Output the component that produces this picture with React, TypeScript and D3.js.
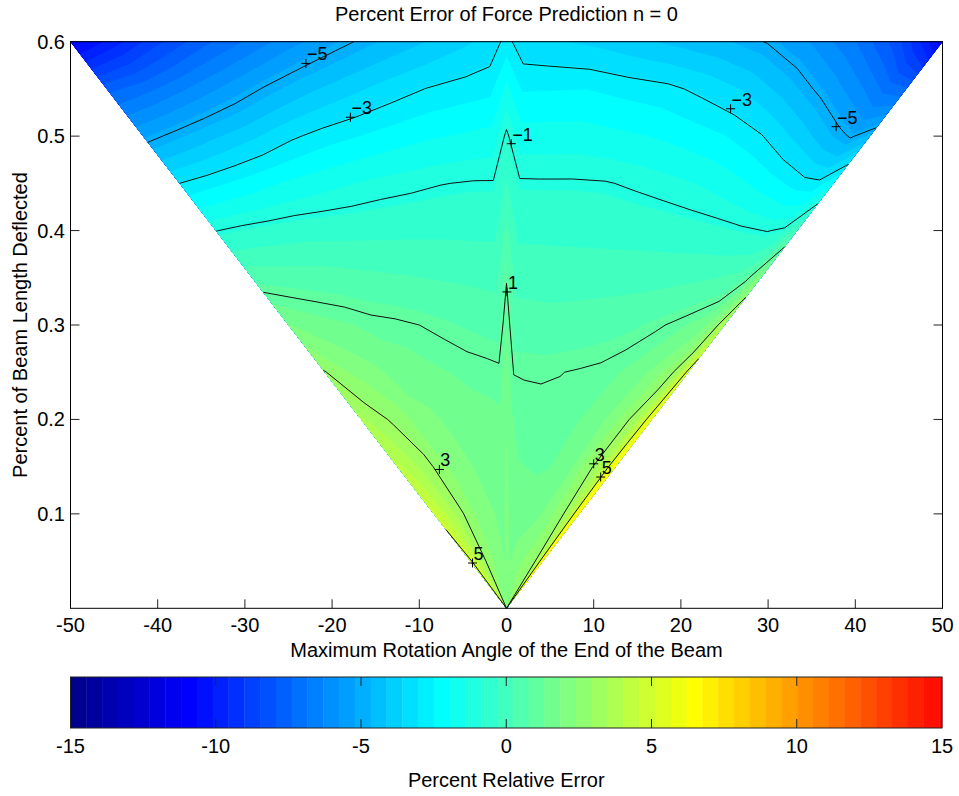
import React, { useEffect, useRef } from 'react';
import * as d3 from 'd3';

// normalized rotation angle (angle / largest angle reachable at that deflection)
const angleFractions = [-1, -0.9, -0.8, -0.7, -0.6, -0.5, -0.4, -0.3, -0.2, -0.1, -0.04, 0, 0.04, 0.1, 0.2, 0.3, 0.4, 0.5, 0.6, 0.7, 0.8, 0.9, 0.95, 1];
// percent of beam length deflected, one table row each
const deflections = [0, 0.05, 0.1, 0.15, 0.2, 0.25, 0.3, 0.35, 0.4, 0.45, 0.5, 0.55, 0.6];

// percent relative error, rows from deflection 0 up to 0.6
const errorRows = [
  [5.5, 4.8, 4.2, 3.7, 3.2, 2.9, 2.6, 2.3, 2.1, 2.0, 1.9, 2.1, 2.0, 2.0, 2.2, 2.4, 2.6, 2.7, 2.85, 2.9, 3.0, 4.4, 6.0, 7.8],
  [5.3, 4.6, 4.1, 3.64, 3.1, 2.8, 2.5, 2.2, 2.0, 1.9, 1.85, 2.1, 1.95, 1.85, 2.0, 2.2, 2.35, 2.5, 2.65, 2.8, 3.02, 4.3, 5.9, 7.5],
  [4.85, 4.4, 3.85, 3.46, 3.05, 2.6, 2.3, 2.05, 1.9, 1.8, 1.75, 2.05, 1.8, 1.6, 1.65, 1.6, 1.7, 1.9, 2.15, 2.7, 3.05, 4.1, 5.7, 7.2],
  [4.2, 3.85, 3.45, 3.15, 2.58, 2.3, 2.05, 1.85, 1.7, 1.65, 1.6, 1.95, 1.6, 1.35, 1.3, 1.25, 1.3, 1.55, 1.8, 2.5, 3.05, 3.9, 5.4, 6.8],
  [3.6, 3.27, 2.94, 2.58, 2.1, 1.95, 1.75, 1.6, 1.5, 1.45, 1.4, 1.8, 1.35, 1.15, 1.12, 1.1, 1.15, 1.3, 1.5, 1.95, 2.6, 3.5, 4.58, 6.2],
  [3.05, 2.5, 2.2, 1.95, 1.63, 1.55, 1.4, 1.3, 1.2, 1.15, 1.1, 1.6, 0.98, 0.97, 0.96, 0.99, 1.04, 1.1, 1.25, 1.5, 1.95, 2.7, 3.53, 5.4],
  [1.9, 1.62, 1.45, 1.32, 1.16, 1.1, 1.0, 0.87, 0.74, 0.63, 0.57, 1.3, 0.5, 0.48, 0.44, 0.48, 0.53, 0.6, 0.72, 0.92, 1.2, 1.62, 2.3, 4.0],
  [0.6, 0.56, 0.52, 0.48, 0.4, 0.33, 0.27, 0.2, 0.16, 0.1, 0.07, 0.96, 0.03, 0.0, -0.02, -0.01, 0.0, 0.02, 0.04, 0.1, 0.17, 0.38, 0.89, 2.3],
  [-1.02, -0.81, -0.67, -0.55, -0.52, -0.49, -0.46, -0.44, -0.43, -0.44, -0.44, 0.35, -0.45, -0.45, -0.47, -0.5, -0.53, -0.57, -0.64, -0.72, -0.875, -1.03, -0.89, 0.3],
  [-3.0, -2.65, -2.3, -1.96, -1.69, -1.48, -1.28, -1.15, -1.02, -0.95, -0.95, -0.26, -0.92, -0.93, -0.93, -0.96, -1.09, -1.25, -1.46, -1.78, -2.24, -2.76, -2.84, -2.0],
  [-5.3, -4.74, -4.2, -3.7, -3.14, -2.75, -2.48, -2.21, -2.0, -1.86, -1.77, -0.87, -1.7, -1.7, -1.69, -1.82, -1.96, -2.19, -2.47, -2.95, -3.73, -4.69, -5.09, -4.5],
  [-7.6, -7.0, -6.3, -5.6, -4.89, -4.27, -3.78, -3.35, -2.98, -2.76, -2.64, -1.8, -2.55, -2.53, -2.5, -2.68, -2.84, -3.2, -3.65, -4.39, -5.3, -6.37, -7.03, -7.3],
  [-11, -9.8, -8.6, -7.6, -6.8, -6.0, -5.3, -4.7, -4.2, -3.7, -3.4, -2.8, -3.4, -3.5, -3.7, -4.0, -4.3, -4.6, -5.05, -5.8, -6.8, -8.3, -9.6, -11],
];

const maxAngle = 50;
const maxDeflection = 0.6;

const angleTicks = [-50, -40, -30, -20, -10, 0, 10, 20, 30, 40, 50];
const deflectionTicks = [0.1, 0.2, 0.3, 0.4, 0.5, 0.6];
const colorbarTicks = [-15, -10, -5, 0, 5, 10, 15];
const colorLimits = [-15, 19.8];

const contourLevels = [-5, -3, -1, 1, 3, 5];
const labelLevels = [-5, -5, -3, -3, -1, 1, 3, 3, 5, 5];
const labelAngles = [-23.0, 37.8, -17.9, 25.7, 0.55, 0.05, -7.7, 10.0, -3.9, 10.8];
const labelDeflections = [0.577, 0.51, 0.52, 0.529, 0.492, 0.335, 0.147, 0.153, 0.048, 0.139];

// MATLAB style jet colormap
function jet(m: number): string[] {
  const n = Math.ceil(m / 4);
  const u = [
    ...d3.range(1, n + 1).map(i => i / n),
    ...d3.range(n - 1).map(() => 1),
    ...d3.range(n, 0, -1).map(i => i / n),
  ];
  const g0 = Math.ceil(n / 2) - (m % 4 === 1 ? 1 : 0);
  const rgb = d3.range(m).map(() => [0, 0, 0]);
  u.forEach((v, i) => {
    const g = g0 + i + 1, r = g + n, b = g - n;
    if (g <= m) rgb[g - 1][1] = v;
    if (r <= m) rgb[r - 1][0] = v;
    if (b >= 1) rgb[b - 1][2] = v;
  });
  return rgb.map(([r, g, b]) => d3.rgb(r * 255, g * 255, b * 255).formatHex());
}

const FONT = '"Liberation Sans", Arial, Helvetica, sans-serif';

const App: React.FC = () => {
  const svgRef = useRef<SVGSVGElement>(null);

  useEffect(() => {
    if (!svgRef.current) return;
    const svg = d3.select(svgRef.current);
    svg.selectAll('*').remove();

    const plot = { left: 70.5, right: 942.5, top: 41.7, bottom: 608.3 };
    const bar = { left: 70.5, right: 942, top: 677, bottom: 728 };
    const tickLen = 9;

    const x = d3.scaleLinear().domain([-50, 50]).range([plot.left, plot.right]);
    const y = d3.scaleLinear().domain([0, 0.6]).range([plot.bottom, plot.top]);
    const cx = d3.scaleLinear().domain([-15, 15]).range([bar.left, bar.right]);

    const colors = jet(64);
    const step = (colorLimits[1] - colorLimits[0]) / colors.length;

    svg.append('rect').attr('width', 959).attr('height', 796).attr('fill', '#fff');

    // ticks (drawn under the filled data, like MATLAB)
    const ticks = svg.append('g').attr('stroke', '#222').attr('stroke-width', 1);
    angleTicks.forEach(t => {
      ticks.append('line').attr('x1', x(t)).attr('x2', x(t)).attr('y1', plot.bottom).attr('y2', plot.bottom - tickLen);
      ticks.append('line').attr('x1', x(t)).attr('x2', x(t)).attr('y1', plot.top).attr('y2', plot.top + tickLen);
    });
    deflectionTicks.forEach(t => {
      ticks.append('line').attr('x1', plot.left).attr('x2', plot.left + tickLen).attr('y1', y(t)).attr('y2', y(t));
      ticks.append('line').attr('x1', plot.right).attr('x2', plot.right - tickLen).attr('y1', y(t)).attr('y2', y(t));
    });

    // grid -> chart coordinates
    const nx = angleFractions.length;
    const ny = deflections.length;
    const values = errorRows.flat();
    const uAt = d3.scaleLinear().domain(d3.range(nx)).range(angleFractions).clamp(true);
    const dAt = d3.scaleLinear().domain(d3.range(ny)).range(deflections).clamp(true);
    const project = (p: number[]): [number, number] => {
      const d = dAt(p[1] - 0.5);
      const a = uAt(p[0] - 0.5) * maxAngle * d / maxDeflection;
      return [x(a), y(d)];
    };
    const onEdge = (p: number[]) => p[0] <= 0 || p[0] >= nx || p[1] <= 0 || p[1] >= ny;

    // filled bands, one per colormap entry
    const thresholds = colors.map((_, k) => colorLimits[0] + k * step);
    const bands = d3.contours().size([nx, ny]).thresholds(thresholds)(values);
    const fills = svg.append('g');
    bands.forEach((band, k) => {
      const rings = band.coordinates.flat(1);
      if (!rings.length) return;
      const d = rings
        .map(ring => 'M' + ring.map(p => project(p).join(',')).join('L') + 'Z')
        .join('');
      fills.append('path').attr('d', d).attr('fill', colors[k]);
    });

    // contour lines
    const isolines = d3.contours().size([nx, ny]).thresholds(contourLevels)(values);
    const lines = svg.append('g')
      .attr('fill', 'none')
      .attr('stroke', '#111')
      .attr('stroke-width', 1);
    isolines.forEach(iso => {
      let d = '';
      iso.coordinates.flat(1).forEach(ring => {
        let open = false;
        for (let i = 1; i < ring.length; i++) {
          const a = ring[i - 1], b = ring[i];
          if (onEdge(a) || onEdge(b)) { open = false; continue; }
          const pa = project(a), pb = project(b);
          if (!open) { d += `M${pa[0]},${pa[1]}`; open = true; }
          d += `L${pb[0]},${pb[1]}`;
        }
      });
      lines.append('path').attr('d', d);
    });

    // contour labels
    const labels = svg.append('g');
    labelLevels.forEach((lev, i) => {
      const px = x(labelAngles[i]);
      const py = y(labelDeflections[i]);
      labels.append('path')
        .attr('d', `M${px - 4.5},${py}H${px + 4.5}M${px},${py - 4.5}V${py + 4.5}`)
        .attr('stroke', '#000')
        .attr('stroke-width', 1);
      labels.append('text')
        .attr('x', px + 1)
        .attr('y', py - 3)
        .attr('font-family', FONT)
        .attr('font-size', 18)
        .attr('fill', '#000')
        .text(lev < 0 ? '\u2212' + Math.abs(lev) : String(lev));
    });

    // axes box
    svg.append('rect')
      .attr('x', plot.left).attr('y', plot.top)
      .attr('width', plot.right - plot.left).attr('height', plot.bottom - plot.top)
      .attr('fill', 'none').attr('stroke', '#000').attr('stroke-width', 1);

    const text = svg.append('g').attr('font-family', FONT).attr('font-size', 20).attr('fill', '#000');

    angleTicks.forEach(t => {
      text.append('text').attr('x', x(t)).attr('y', 632).attr('text-anchor', 'middle').text(String(t));
    });
    deflectionTicks.forEach(t => {
      text.append('text').attr('x', 65).attr('y', y(t)).attr('dy', '0.35em')
        .attr('text-anchor', 'end').text(d3.format('.1f')(t));
    });

    text.append('text').attr('x', (plot.left + plot.right) / 2).attr('y', 21)
      .attr('text-anchor', 'middle').text('Percent Error of Force Prediction n = 0');
    text.append('text').attr('x', (plot.left + plot.right) / 2).attr('y', 657)
      .attr('text-anchor', 'middle').text('Maximum Rotation Angle of the End of the Beam');
    text.append('text')
      .attr('transform', `translate(27,${(plot.top + plot.bottom) / 2}) rotate(-90)`)
      .attr('text-anchor', 'middle').text('Percent of Beam Length Deflected');

    // colorbar
    const cb = svg.append('g');
    colors.forEach((c, k) => {
      const v0 = colorLimits[0] + k * step;
      const v1 = Math.min(v0 + step, 15);
      if (v0 >= 15) return;
      cb.append('rect')
        .attr('x', cx(v0)).attr('y', bar.top)
        .attr('width', cx(v1) - cx(v0) + 0.4).attr('height', bar.bottom - bar.top)
        .attr('fill', c);
    });
    colorbarTicks.slice(1, -1).forEach(t => {
      cb.append('line').attr('x1', cx(t)).attr('x2', cx(t)).attr('y1', bar.top).attr('y2', bar.top + tickLen)
        .attr('stroke', '#222');
      cb.append('line').attr('x1', cx(t)).attr('x2', cx(t)).attr('y1', bar.bottom).attr('y2', bar.bottom - tickLen)
        .attr('stroke', '#222');
    });
    cb.append('rect')
      .attr('x', bar.left).attr('y', bar.top)
      .attr('width', bar.right - bar.left).attr('height', bar.bottom - bar.top)
      .attr('fill', 'none').attr('stroke', '#222').attr('stroke-width', 1);

    colorbarTicks.forEach(t => {
      text.append('text').attr('x', cx(t)).attr('y', 753).attr('text-anchor', 'middle').text(String(t));
    });
    text.append('text').attr('x', (bar.left + bar.right) / 2).attr('y', 787)
      .attr('text-anchor', 'middle').text('Percent Relative Error');
  }, []);

  return (
    <svg
      ref={svgRef}
      width={959}
      height={796}
      style={{ position: 'absolute', left: 0, top: 0, display: 'block' }}
    />
  );
};

export default App;
